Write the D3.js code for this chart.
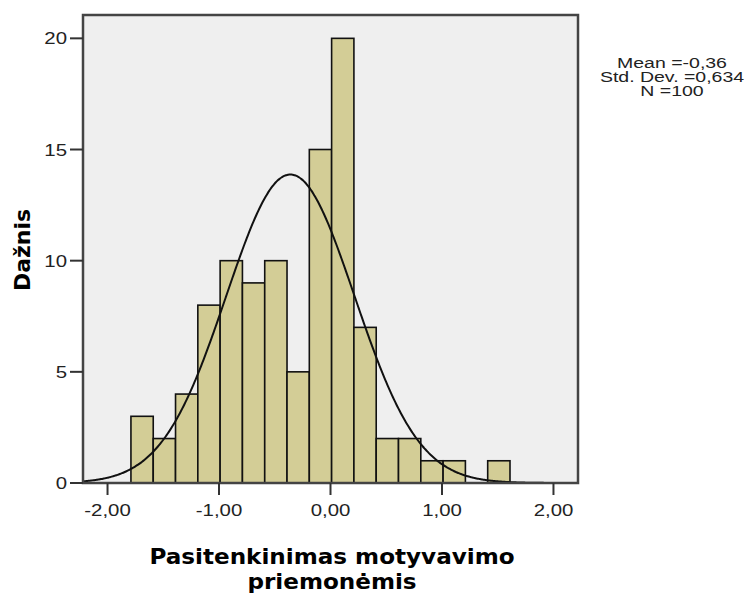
<!DOCTYPE html>
<html>
<head>
<meta charset="utf-8">
<script src="https://cdn.jsdelivr.net/npm/d3@7"></script>
<style>
  body { margin: 0; background: #fff; }
  svg { display: block; }
  .tick-label { font-family: "Liberation Sans", Arial, sans-serif; font-size: 17px; fill: #222; }
  .axis-title { font-family: "DejaVu Sans", Verdana, sans-serif; font-weight: bold; font-size: 21px; fill: #000; }
  .stats { font-family: "Liberation Sans", Arial, sans-serif; font-size: 15px; fill: #222; }
</style>
</head>
<body>
<script>
// histogram bins (left edges) and counts
const binStart = -1.79;
const binWidth = 0.2;
const counts = [3, 2, 4, 8, 10, 9, 10, 5, 15, 20, 7, 2, 2, 1, 1, 0, 1];

const xTicks = [-2, -1, 0, 1, 2];
const yTicks = [0, 5, 10, 15, 20];

const mean = -0.36;
const n = 100;
const curveSd = 0.575; // spread of the fitted curve as drawn in the picture

const statsLines = ['Mean =-0,36', 'Std. Dev. =0,634', 'N =100'];

const width = 750, height = 593;
const plot = { left: 83, right: 578, top: 15, bottom: 483 };
const stretch = 1.2; // text in the picture is widened horizontally

const svg = d3.select('body').append('svg')
  .attr('width', width)
  .attr('height', height);

const x = d3.scaleLinear().domain([-2.22, 2.22]).range([plot.left, plot.right]);
const y = d3.scaleLinear().domain([0, 21.05]).range([plot.bottom, plot.top]);

const fmt = v => d3.format('.2f')(v).replace('.', ',').replace('−', '-');

// draws text widened horizontally around its anchor point
function wideText(sel, cls, px, py, anchor, sx) {
  return sel.append('g')
    .attr('transform', `translate(${px},${py}) scale(${sx},1)`)
    .append('text')
    .attr('class', cls)
    .attr('text-anchor', anchor);
}

// background
svg.append('rect')
  .attr('x', plot.left).attr('y', plot.top)
  .attr('width', plot.right - plot.left).attr('height', plot.bottom - plot.top)
  .attr('fill', '#efefef');

// bars
const bins = counts.map((c, i) => ({ x0: binStart + i * binWidth, x1: binStart + (i + 1) * binWidth, count: c }))
  .filter(d => d.count > 0);

svg.selectAll('.bar')
  .data(bins)
  .enter()
  .append('rect')
  .attr('class', 'bar')
  .attr('x', d => x(d.x0))
  .attr('y', d => y(d.count))
  .attr('width', d => x(d.x1) - x(d.x0))
  .attr('height', d => y(0) - y(d.count))
  .attr('fill', '#d3cd96')
  .attr('stroke', '#111')
  .attr('stroke-width', 1.6);

// normal curve
const curvePts = d3.range(-2.22, 2.2201, 0.01).map(v => ({
  v: v,
  f: n * binWidth * Math.exp(-0.5 * Math.pow((v - mean) / curveSd, 2)) / (curveSd * Math.sqrt(2 * Math.PI))
}));

const line = d3.line()
  .x(d => x(d.v))
  .y(d => y(d.f))
  .curve(d3.curveBasis);

svg.append('path')
  .datum(curvePts)
  .attr('d', line)
  .attr('fill', 'none')
  .attr('stroke', '#111')
  .attr('stroke-width', 2);

// frame
svg.append('rect')
  .attr('x', plot.left).attr('y', plot.top)
  .attr('width', plot.right - plot.left).attr('height', plot.bottom - plot.top)
  .attr('fill', 'none')
  .attr('stroke', '#444')
  .attr('stroke-width', 2.5);

// y ticks
yTicks.forEach(t => {
  svg.append('line')
    .attr('x1', plot.left - 13).attr('x2', plot.left)
    .attr('y1', y(t)).attr('y2', y(t))
    .attr('stroke', '#333').attr('stroke-width', 2);
  wideText(svg, 'tick-label', plot.left - 16, y(t) + 6, 'end', stretch).text(t);
});

// x ticks
xTicks.forEach(t => {
  svg.append('line')
    .attr('x1', x(t)).attr('x2', x(t))
    .attr('y1', plot.bottom).attr('y2', plot.bottom + 12)
    .attr('stroke', '#333').attr('stroke-width', 2);
  wideText(svg, 'tick-label', x(t), plot.bottom + 33, 'middle', stretch).text(fmt(t));
});

// axis titles
svg.append('text')
  .attr('class', 'axis-title')
  .attr('transform', 'translate(30,250) rotate(-90)')
  .attr('text-anchor', 'middle')
  .style('font-size', '22px')
  .text('Dažnis');

wideText(svg, 'axis-title', 332, 564, 'middle', 1.1).text('Pasitenkinimas motyvavimo');
wideText(svg, 'axis-title', 332, 589, 'middle', 1.1).text('priemonėmis');

// stats box text
statsLines.forEach((s, i) => {
  wideText(svg, 'stats', 672, 68 + i * 14, 'middle', 1.3).text(s);
});
</script>
</body>
</html>
